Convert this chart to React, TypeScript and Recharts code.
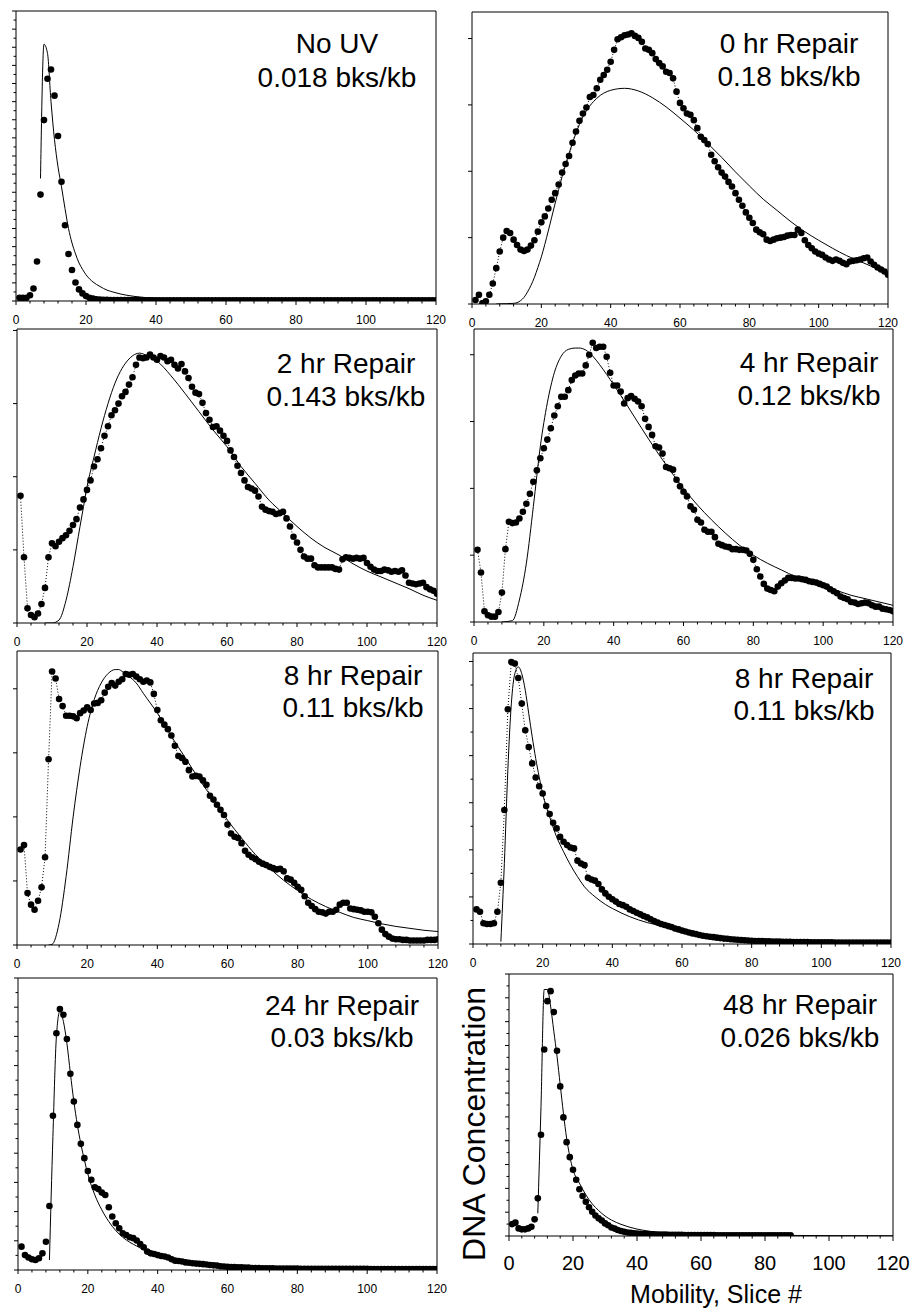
import { ComposedChart, Line, XAxis, YAxis } from 'recharts';

const FONT = '"Liberation Sans", Arial, Helvetica, sans-serif';

// DNA concentration per gel slice (slice 1 .. n), one array per sample
const noUvConc = [
  0.18, 0.18, 0.18, 0.32, 0.69, 2.18, 5.87, 9.98, 12.26, 12.77,
  11.33, 9.1, 6.58, 4.18, 2.59, 1.71, 1.02, 0.64, 0.42, 0.27,
  0.18, 0.13, 0.1, 0.08, 0.07, 0.06, 0.05, 0.05, 0.05, 0.05,
  0.05, 0.05, 0.05, 0.05, 0.05, 0.04, 0.04, 0.04, 0.04, 0.04,
  0.04, 0.04, 0.04, 0.04, 0.04, 0.04, 0.04, 0.04, 0.04, 0.04,
  0.04, 0.04, 0.04, 0.04, 0.04, 0.04, 0.04, 0.04, 0.04, 0.04,
  0.04, 0.04, 0.04, 0.04, 0.04, 0.04, 0.04, 0.04, 0.04, 0.04,
  0.04, 0.04, 0.04, 0.04, 0.04, 0.04, 0.04, 0.04, 0.04, 0.04,
  0.04, 0.04, 0.04, 0.04, 0.04, 0.04, 0.04, 0.04, 0.04, 0.04,
  0.04, 0.04, 0.04, 0.04, 0.04, 0.04, 0.04, 0.04, 0.04, 0.04,
  0.04, 0.04, 0.04, 0.04, 0.04, 0.04, 0.04, 0.04, 0.04, 0.04,
  0.04, 0.04, 0.04, 0.04, 0.04, 0.04, 0.04, 0.04, 0.04, 0.04,
];

const repair0Conc = [
  0.06, 0.14, 0.01, 0.04, 0.14, 0.31, 0.54, 0.79, 1.0, 1.1,
  1.07, 0.97, 0.89, 0.82, 0.8, 0.82, 0.88, 0.96, 1.09, 1.23,
  1.32, 1.44, 1.57, 1.67, 1.8, 1.98, 2.11, 2.23, 2.43, 2.6,
  2.76, 2.87, 2.96, 3.12, 3.15, 3.25, 3.38, 3.45, 3.53, 3.65,
  3.83, 3.99, 4.02, 4.05, 4.06, 4.08, 4.04, 4.01, 3.95, 3.85,
  3.83, 3.78, 3.69, 3.63, 3.58, 3.5, 3.48, 3.4, 3.2, 3.03,
  2.95, 2.87, 2.85, 2.77, 2.65, 2.52, 2.47, 2.41, 2.25, 2.15,
  2.06, 1.98, 1.92, 1.84, 1.77, 1.67, 1.57, 1.48, 1.38, 1.3,
  1.22, 1.12, 1.08, 1.05, 0.97, 0.95, 0.97, 0.99, 1.0, 1.01,
  1.03, 1.04, 1.04, 1.12, 1.07, 0.96, 0.89, 0.84, 0.79, 0.76,
  0.74, 0.7, 0.67, 0.65, 0.67, 0.65, 0.62, 0.6, 0.64, 0.65,
  0.66, 0.67, 0.69, 0.7, 0.64, 0.59, 0.55, 0.52, 0.49, 0.44,
];

const repair2Conc = [
  1.74, 0.9, 0.2, 0.11, 0.08, 0.13, 0.26, 0.48, 0.9, 1.09,
  1.05, 1.11, 1.16, 1.2, 1.26, 1.34, 1.42, 1.58, 1.69, 1.82,
  1.95, 2.14, 2.24, 2.39, 2.56, 2.69, 2.84, 2.91, 3.0, 3.1,
  3.16, 3.26, 3.36, 3.53, 3.63, 3.62, 3.63, 3.67, 3.63, 3.6,
  3.65, 3.63, 3.58, 3.6, 3.53, 3.48, 3.54, 3.44, 3.35, 3.23,
  3.15, 3.13, 3.01, 2.87, 2.78, 2.68, 2.69, 2.63, 2.56, 2.49,
  2.36, 2.27, 2.15, 2.05, 1.95, 1.86, 1.84, 1.81, 1.73, 1.59,
  1.55, 1.53, 1.52, 1.49, 1.5, 1.52, 1.43, 1.32, 1.18, 1.1,
  1.0, 0.91, 0.88, 0.88, 0.79, 0.76, 0.76, 0.76, 0.76, 0.76,
  0.74, 0.73, 0.87, 0.9, 0.89, 0.88, 0.89, 0.88, 0.89, 0.82,
  0.77, 0.73, 0.71, 0.71, 0.73, 0.72, 0.7, 0.71, 0.7, 0.72,
  0.65, 0.55, 0.54, 0.53, 0.54, 0.55, 0.49, 0.46, 0.44, 0.4,
];

const repair4Conc = [
  1.08, 0.74, 0.16, 0.1, 0.08, 0.08, 0.15, 0.44, 1.09, 1.5,
  1.48, 1.49, 1.55, 1.65, 1.77, 1.92, 2.1, 2.27, 2.45, 2.6,
  2.73, 2.9, 3.09, 3.23, 3.37, 3.37, 3.47, 3.62, 3.69, 3.72,
  3.72, 3.84, 4.0, 4.18, 4.1, 4.12, 4.12, 3.97, 3.73, 3.54,
  3.54, 3.45, 3.27, 3.35, 3.38, 3.34, 3.3, 3.23, 3.04, 2.92,
  2.8, 2.63, 2.61, 2.52, 2.32, 2.3, 2.28, 2.13, 2.03, 1.95,
  1.88, 1.73, 1.68, 1.53, 1.49, 1.38, 1.35, 1.35, 1.27, 1.17,
  1.15, 1.13, 1.12, 1.09, 1.09, 1.08, 1.08, 1.07, 1.02, 0.93,
  0.79, 0.68, 0.57, 0.5, 0.48, 0.46, 0.53, 0.58, 0.62, 0.66,
  0.66, 0.65, 0.65, 0.64, 0.63, 0.61, 0.6, 0.59, 0.57, 0.55,
  0.53, 0.49, 0.46, 0.43, 0.38, 0.36, 0.34, 0.3, 0.29, 0.27,
  0.28, 0.29, 0.28, 0.25, 0.23, 0.23, 0.2, 0.19, 0.18, 0.16,
];

const repair8aConc = [
  1.49, 1.56, 0.81, 0.63, 0.55, 0.69, 0.9, 1.37, 2.9, 4.27,
  4.16, 3.84, 3.73, 3.58, 3.58, 3.57, 3.54, 3.62, 3.66, 3.71,
  3.67, 3.77, 3.78, 3.82, 3.94, 4.03, 4.09, 4.05, 4.11, 4.15,
  4.23, 4.22, 4.23, 4.19, 4.15, 4.11, 4.13, 4.1, 3.92, 3.67,
  3.51, 3.44, 3.37, 3.27, 3.11, 2.95, 2.92, 2.86, 2.73, 2.63,
  2.64, 2.63, 2.57, 2.5, 2.33, 2.27, 2.19, 2.11, 2.03, 1.88,
  1.74, 1.69, 1.67, 1.59, 1.47, 1.41, 1.37, 1.34, 1.3, 1.27,
  1.25, 1.22, 1.2, 1.18, 1.19, 1.15, 1.04, 1.02, 0.97, 0.91,
  0.86, 0.76, 0.66, 0.61, 0.56, 0.52, 0.51, 0.49, 0.52, 0.52,
  0.55, 0.63, 0.66, 0.66, 0.57, 0.56, 0.55, 0.54, 0.52, 0.52,
  0.51, 0.44, 0.34, 0.24, 0.17, 0.13, 0.1, 0.09, 0.09, 0.08,
  0.08, 0.07, 0.07, 0.07, 0.07, 0.07, 0.08, 0.08, 0.08, 0.09,
];

const repair8bConc = [
  1.47, 1.37, 0.88, 0.85, 0.85, 0.88, 1.37, 2.6, 5.69, 9.97,
  11.98, 11.91, 11.3, 10.21, 9.08, 8.37, 7.67, 7.07, 6.7, 6.39,
  5.86, 5.52, 5.15, 4.91, 4.55, 4.34, 4.2, 4.1, 4.06, 3.54,
  3.42, 3.35, 2.81, 2.74, 2.69, 2.55, 2.32, 2.15, 2.01, 1.9,
  1.8, 1.7, 1.65, 1.58, 1.47, 1.4, 1.33, 1.26, 1.19, 1.13,
  1.05, 0.98, 0.91, 0.85, 0.81, 0.76, 0.72, 0.66, 0.62, 0.57,
  0.53, 0.49, 0.45, 0.42, 0.38, 0.35, 0.33, 0.31, 0.29, 0.27,
  0.25, 0.23, 0.22, 0.2, 0.19, 0.18, 0.17, 0.16, 0.15, 0.14,
  0.13, 0.12, 0.12, 0.11, 0.11, 0.1, 0.1, 0.1, 0.09, 0.09,
  0.09, 0.08, 0.08, 0.08, 0.08, 0.08, 0.07, 0.07, 0.07, 0.07,
  0.07, 0.07, 0.07, 0.06, 0.06, 0.06, 0.06, 0.06, 0.06, 0.06,
  0.06, 0.06, 0.06, 0.06, 0.06, 0.06, 0.06, 0.06, 0.06, 0.06,
];

const repair24Conc = [
  0.8, 0.51, 0.43, 0.37, 0.34, 0.4, 0.57, 0.97, 2.19, 5.28,
  8.11, 8.94, 8.74, 7.91, 6.72, 5.77, 4.97, 4.32, 3.83, 3.39,
  3.09, 2.83, 2.77, 2.65, 2.57, 2.15, 1.83, 1.6, 1.43, 1.26,
  1.2, 1.12, 1.09, 1.01, 0.89, 0.78, 0.63, 0.57, 0.55, 0.51,
  0.48, 0.46, 0.43, 0.37, 0.32, 0.31, 0.29, 0.26, 0.25, 0.23,
  0.22, 0.21, 0.2, 0.19, 0.17, 0.16, 0.15, 0.13, 0.12, 0.11,
  0.1, 0.1, 0.09, 0.09, 0.08, 0.08, 0.07, 0.07, 0.07, 0.06,
  0.06, 0.06, 0.06, 0.05, 0.05, 0.05, 0.05, 0.05, 0.05, 0.05,
  0.04, 0.04, 0.04, 0.04, 0.04, 0.04, 0.04, 0.04, 0.04, 0.04,
  0.04, 0.04, 0.04, 0.04, 0.04, 0.04, 0.04, 0.04, 0.04, 0.04,
  0.03, 0.03, 0.03, 0.03, 0.03, 0.03, 0.03, 0.03, 0.03, 0.03,
  0.03, 0.03, 0.03, 0.03, 0.03, 0.03, 0.03, 0.03, 0.03, 0.03,
];

const repair48Conc = [
  0.5, 0.56, 0.32, 0.28, 0.28, 0.32, 0.39, 0.7, 1.58, 4.25,
  7.83, 9.86, 10.28, 9.4, 7.78, 6.28, 4.98, 3.94, 3.31, 2.78,
  2.36, 1.96, 1.68, 1.44, 1.21, 1.02, 0.86, 0.74, 0.65, 0.53,
  0.45, 0.36, 0.31, 0.25, 0.21, 0.18, 0.15, 0.13, 0.11, 0.1,
  0.09, 0.08, 0.08, 0.07, 0.07, 0.06, 0.06, 0.06, 0.06, 0.05,
  0.05, 0.05, 0.05, 0.05, 0.04, 0.04, 0.04, 0.04, 0.04, 0.04,
  0.04, 0.04, 0.04, 0.04, 0.03, 0.03, 0.03, 0.03, 0.03, 0.03,
  0.03, 0.03, 0.03, 0.03, 0.03, 0.03, 0.03, 0.03, 0.03, 0.03,
  0.03, 0.03, 0.03, 0.03, 0.03, 0.03, 0.03, 0.03,
];

// fitted size-distribution curves: slice positions and fitted values
const noUvFitX = [7, 8, 9, 10, 11, 12, 13, 14, 15, 16, 17, 18, 19, 20, 22, 24, 26, 28, 30, 34, 40, 50, 60, 80, 100, 120];
const noUvFitY = [6.76, 14.17, 13.66, 11.0, 8.9, 7.4, 6.3, 5.1, 4.0, 3.2, 2.6, 2.1, 1.75, 1.45, 1.05, 0.8, 0.6, 0.48, 0.38, 0.25, 0.15, 0.08, 0.06, 0.04, 0.04, 0.04];

const repair0FitX = [7, 10, 12, 13, 14, 15, 16, 17, 18, 19, 20, 22, 24, 26, 28, 32, 36, 40, 44, 48, 52, 56, 60, 64, 68, 72, 76, 80, 84, 88, 92, 96, 100, 104, 108, 112, 116, 120];
const repair0FitY = [0, 0.005, 0.01, 0.02, 0.05, 0.1, 0.18, 0.28, 0.4, 0.55, 0.71, 1.1, 1.52, 1.92, 2.27, 2.82, 3.1, 3.22, 3.25, 3.21, 3.11, 2.97, 2.8, 2.62, 2.42, 2.21, 1.99, 1.78, 1.58, 1.41, 1.24, 1.09, 0.96, 0.84, 0.73, 0.64, 0.55, 0.46];

const repair2FitX = [8, 10, 12, 14, 16, 18, 19, 20, 22, 24, 26, 28, 30, 32, 34, 35, 36, 38, 40, 44, 48, 52, 56, 60, 64, 68, 72, 76, 80, 84, 88, 92, 96, 100, 104, 108, 112, 116, 120];
const repair2FitY = [0, 0, 0.04, 0.31, 0.77, 1.32, 1.59, 1.86, 2.27, 2.66, 3.0, 3.28, 3.48, 3.61, 3.68, 3.69, 3.68, 3.63, 3.58, 3.38, 3.14, 2.89, 2.64, 2.41, 2.14, 1.91, 1.68, 1.5, 1.32, 1.16, 1.03, 0.93, 0.81, 0.71, 0.63, 0.55, 0.47, 0.38, 0.31];

const repair4FitX = [8, 11, 13, 15, 17, 19, 21, 23, 25, 27, 29, 30, 32, 34, 36, 40, 44, 48, 52, 56, 60, 64, 68, 72, 76, 80, 84, 88, 92, 96, 100, 104, 108, 112, 116, 120];
const repair4FitY = [0, 0.02, 0.33, 0.88, 1.73, 2.63, 3.28, 3.73, 3.98, 4.08, 4.1, 4.1, 4.07, 3.98, 3.85, 3.55, 3.23, 2.9, 2.58, 2.28, 2.0, 1.75, 1.53, 1.33, 1.15, 1.0, 0.88, 0.78, 0.68, 0.6, 0.54, 0.47, 0.4, 0.35, 0.3, 0.25];

const repair8aFitX = [9, 10, 12, 14, 16, 18, 20, 22, 24, 26, 28, 29, 30, 32, 34, 36, 40, 44, 48, 52, 56, 60, 64, 68, 72, 76, 80, 84, 88, 92, 96, 100, 104, 108, 112, 116, 120];
const repair8aFitY = [0, 0.01, 0.34, 1.07, 2.0, 2.79, 3.41, 3.83, 4.09, 4.24, 4.3, 4.3, 4.27, 4.19, 4.09, 3.93, 3.62, 3.26, 2.92, 2.58, 2.27, 1.95, 1.67, 1.41, 1.2, 1.01, 0.85, 0.71, 0.6, 0.51, 0.43, 0.38, 0.33, 0.29, 0.26, 0.23, 0.21];

const repair8bFitX = [8, 9, 10, 11, 12, 13, 14, 15, 16, 17, 18, 19, 20, 22, 24, 26, 28, 30, 32, 35, 38, 40, 45, 50, 55, 60, 65, 70, 80, 90, 100, 120];
const repair8bFitY = [0.1, 3.42, 7.38, 10.2, 11.48, 11.77, 11.48, 10.78, 9.79, 8.8, 7.88, 7.1, 6.39, 5.4, 4.55, 3.92, 3.35, 2.86, 2.43, 2.01, 1.68, 1.51, 1.16, 0.91, 0.74, 0.52, 0.38, 0.28, 0.14, 0.08, 0.06, 0.04];

const repair24FitX = [9, 10, 11, 12, 13, 14, 15, 16, 17, 18, 19, 20, 22, 24, 26, 28, 30, 32, 34, 36, 38, 40, 45, 50, 55, 60, 70, 80, 100, 120];
const repair24FitY = [0.34, 4.57, 8.0, 8.86, 8.51, 7.77, 6.74, 5.77, 4.97, 4.32, 3.77, 3.29, 2.57, 2.06, 1.66, 1.35, 1.12, 0.95, 0.82, 0.69, 0.59, 0.51, 0.37, 0.26, 0.19, 0.15, 0.09, 0.06, 0.03, 0.02];

const repair48FitX = [9, 10, 11, 12, 13, 14, 15, 16, 17, 18, 19, 20, 22, 24, 26, 28, 30, 32, 35, 40, 45, 50, 60, 80, 120];
const repair48FitY = [0.95, 5.44, 10.35, 10.35, 9.65, 8.6, 7.55, 6.35, 5.16, 4.11, 3.34, 2.78, 2.22, 1.73, 1.35, 1.07, 0.84, 0.67, 0.49, 0.29, 0.18, 0.11, 0.06, 0.03, 0.01];

const sampleTitles = ['No UV', '0 hr Repair', '2 hr Repair', '4 hr Repair', '8 hr Repair', '8 hr Repair', '24 hr Repair', '48 hr Repair'];
const breakRates = ['0.018 bks/kb', '0.18 bks/kb', '0.143 bks/kb', '0.12 bks/kb', '0.11 bks/kb', '0.11 bks/kb', '0.03 bks/kb', '0.026 bks/kb'];

const toSlices = (conc: number[]) => conc.map((c, i) => ({ x: i + 1, y: c }));
const toFit = (xs: number[], ys: number[]) => xs.map((x, i) => ({ x, y: ys[i] }));
const stepTicks = (max: number, step: number) => {
  const out: number[] = [];
  for (let v = 0; v <= max + 1e-9; v += step) out.push(Math.round(v * 1000) / 1000);
  return out;
};

const isMultiple = (v: number, step: number) => Math.abs(v / step - Math.round(v / step)) < 1e-6;

function LeftTick(props: any) {
  const { x, y, payload, majorStep } = props;
  const len = isMultiple(payload.value, majorStep) ? 4 : 2.5;
  return <line x1={x} x2={x - len} y1={y} y2={y} stroke="#000" strokeWidth={1} />;
}

function BottomTick(props: any) {
  const { x, y, payload, big } = props;
  const major = payload.value % 20 === 0;
  return (
    <g>
      <line x1={x} x2={x} y1={y} y2={y + (major ? (big ? 5 : 4) : 2.5)} stroke="#000" strokeWidth={1} />
      {major && (
        <text x={x} y={y + (big ? 34 : 23)} textAnchor="middle" fontSize={big ? 20 : 12} fontFamily={FONT} fill="#000">
          {payload.value}
        </text>
      )}
    </g>
  );
}

function TopTick(props: any) {
  const { x, y } = props;
  return <line x1={x} x2={x} y1={y} y2={y + 3} stroke="#000" strokeWidth={1} />;
}

interface PanelProps {
  box: { l: number; t: number; r: number; b: number };
  yMax: number;
  yStep: number;
  yMajor: number;
  conc: number[];
  fitX: number[];
  fitY: number[];
  dotted: boolean;
  big?: boolean;
}

function Panel({ box, yMax, yStep, yMajor, conc, fitX, fitY, dotted, big }: PanelProps) {
  const plotW = box.r - box.l;
  const plotH = box.b - box.t;
  return (
    <div style={{ position: 'absolute', left: box.l - 20, top: box.t - 6 }}>
      <ComposedChart width={plotW + 40} height={plotH + 50} margin={{ top: 5, right: 19, bottom: 0, left: 0 }}>
        <XAxis
          type="number"
          dataKey="x"
          domain={[0, 120]}
          allowDataOverflow
          ticks={stepTicks(120, 4)}
          interval={0}
          height={44}
          tickSize={0}
          tickMargin={0}
          tickLine={false}
          axisLine={{ stroke: '#000' }}
          tick={<BottomTick big={big} />}
        />
        <XAxis
          xAxisId="top"
          type="number"
          orientation="top"
          domain={[0, 120]}
          allowDataOverflow
          ticks={[20, 40, 60, 80, 100]}
          interval={0}
          height={1}
          tickSize={0}
          tickMargin={0}
          tickLine={false}
          axisLine={{ stroke: '#000' }}
          tick={<TopTick />}
        />
        <YAxis
          type="number"
          domain={[0, yMax]}
          allowDataOverflow
          ticks={stepTicks(yMax, yStep)}
          interval={0}
          width={20}
          tickSize={0}
          tickMargin={0}
          tickLine={false}
          axisLine={{ stroke: '#000' }}
          tick={<LeftTick majorStep={yMajor} />}
        />
        <YAxis
          yAxisId="right"
          orientation="right"
          type="number"
          domain={[0, yMax]}
          allowDataOverflow
          width={1}
          tick={false}
          tickLine={false}
          axisLine={{ stroke: '#000' }}
        />
        <Line
          data={toSlices(conc)}
          dataKey="y"
          type="linear"
          stroke={dotted ? '#000' : 'none'}
          strokeWidth={1}
          strokeDasharray="1 2"
          dot={{ r: 3.3, fill: '#000', stroke: 'none', strokeDasharray: '' }}
          activeDot={false}
          isAnimationActive={false}
        />
        <Line
          data={toFit(fitX, fitY)}
          dataKey="y"
          type="monotone"
          stroke="#000"
          strokeWidth={1}
          dot={false}
          activeDot={false}
          isAnimationActive={false}
        />
      </ComposedChart>
    </div>
  );
}

const labelSpots = [
  { cx: 337, y1: 53, y2: 87 },
  { cx: 789, y1: 53, y2: 86 },
  { cx: 346, y1: 373, y2: 406 },
  { cx: 809, y1: 372, y2: 405 },
  { cx: 353, y1: 685, y2: 717 },
  { cx: 804, y1: 688, y2: 720 },
  { cx: 342, y1: 1015, y2: 1047 },
  { cx: 800, y1: 1014, y2: 1047 },
];

export default function App() {
  return (
    <div style={{ position: 'absolute', left: 0, top: 0, width: 914, height: 1308, background: '#fff', overflow: 'hidden' }}>
      <Panel box={{ l: 16, t: 11, r: 436, b: 301 }} yMax={16} yStep={0.5} yMajor={1} conc={noUvConc} fitX={noUvFitX} fitY={noUvFitY} dotted={false} />
      <Panel box={{ l: 472, t: 12, r: 888, b: 304 }} yMax={4.4} yStep={1} yMajor={1} conc={repair0Conc} fitX={repair0FitX} fitY={repair0FitY} dotted />
      <Panel box={{ l: 17, t: 329, r: 437, b: 623 }} yMax={4.02} yStep={1} yMajor={1} conc={repair2Conc} fitX={repair2FitX} fitY={repair2FitY} dotted />
      <Panel box={{ l: 474, t: 329, r: 893, b: 622 }} yMax={4.385} yStep={1} yMajor={1} conc={repair4Conc} fitX={repair4FitX} fitY={repair4FitY} dotted />
      <Panel box={{ l: 17, t: 651, r: 438, b: 945 }} yMax={4.59} yStep={1} yMajor={1} conc={repair8aConc} fitX={repair8aFitX} fitY={repair8aFitY} dotted />
      <Panel box={{ l: 473, t: 653, r: 891, b: 944 }} yMax={12.36} yStep={1} yMajor={2} conc={repair8bConc} fitX={repair8bFitX} fitY={repair8bFitY} dotted />
      <Panel box={{ l: 18, t: 978, r: 437, b: 1270 }} yMax={10} yStep={0.5} yMajor={1} conc={repair24Conc} fitX={repair24FitX} fitY={repair24FitY} dotted={false} />
      <Panel box={{ l: 509, t: 974, r: 893, b: 1236 }} yMax={11} yStep={0.5} yMajor={1} conc={repair48Conc} fitX={repair48FitX} fitY={repair48FitY} dotted={false} big />

      <svg width={914} height={1308} style={{ position: 'absolute', left: 0, top: 0, pointerEvents: 'none' }}>
        {labelSpots.map((s, i) => (
          <g key={i} fontFamily={FONT} fontSize={28} fill="#000" textAnchor="middle">
            <text x={s.cx} y={s.y1}>{sampleTitles[i]}</text>
            <text x={s.cx} y={s.y2}>{breakRates[i]}</text>
          </g>
        ))}
        <text x={485} y={1124} transform="rotate(-90 485 1124)" textAnchor="middle" fontFamily={FONT} fontSize={32} fill="#000">
          DNA Concentration
        </text>
        <text x={716} y={1303} textAnchor="middle" fontFamily={FONT} fontSize={25} fill="#000">
          Mobility, Slice #
        </text>
      </svg>
    </div>
  );
}
